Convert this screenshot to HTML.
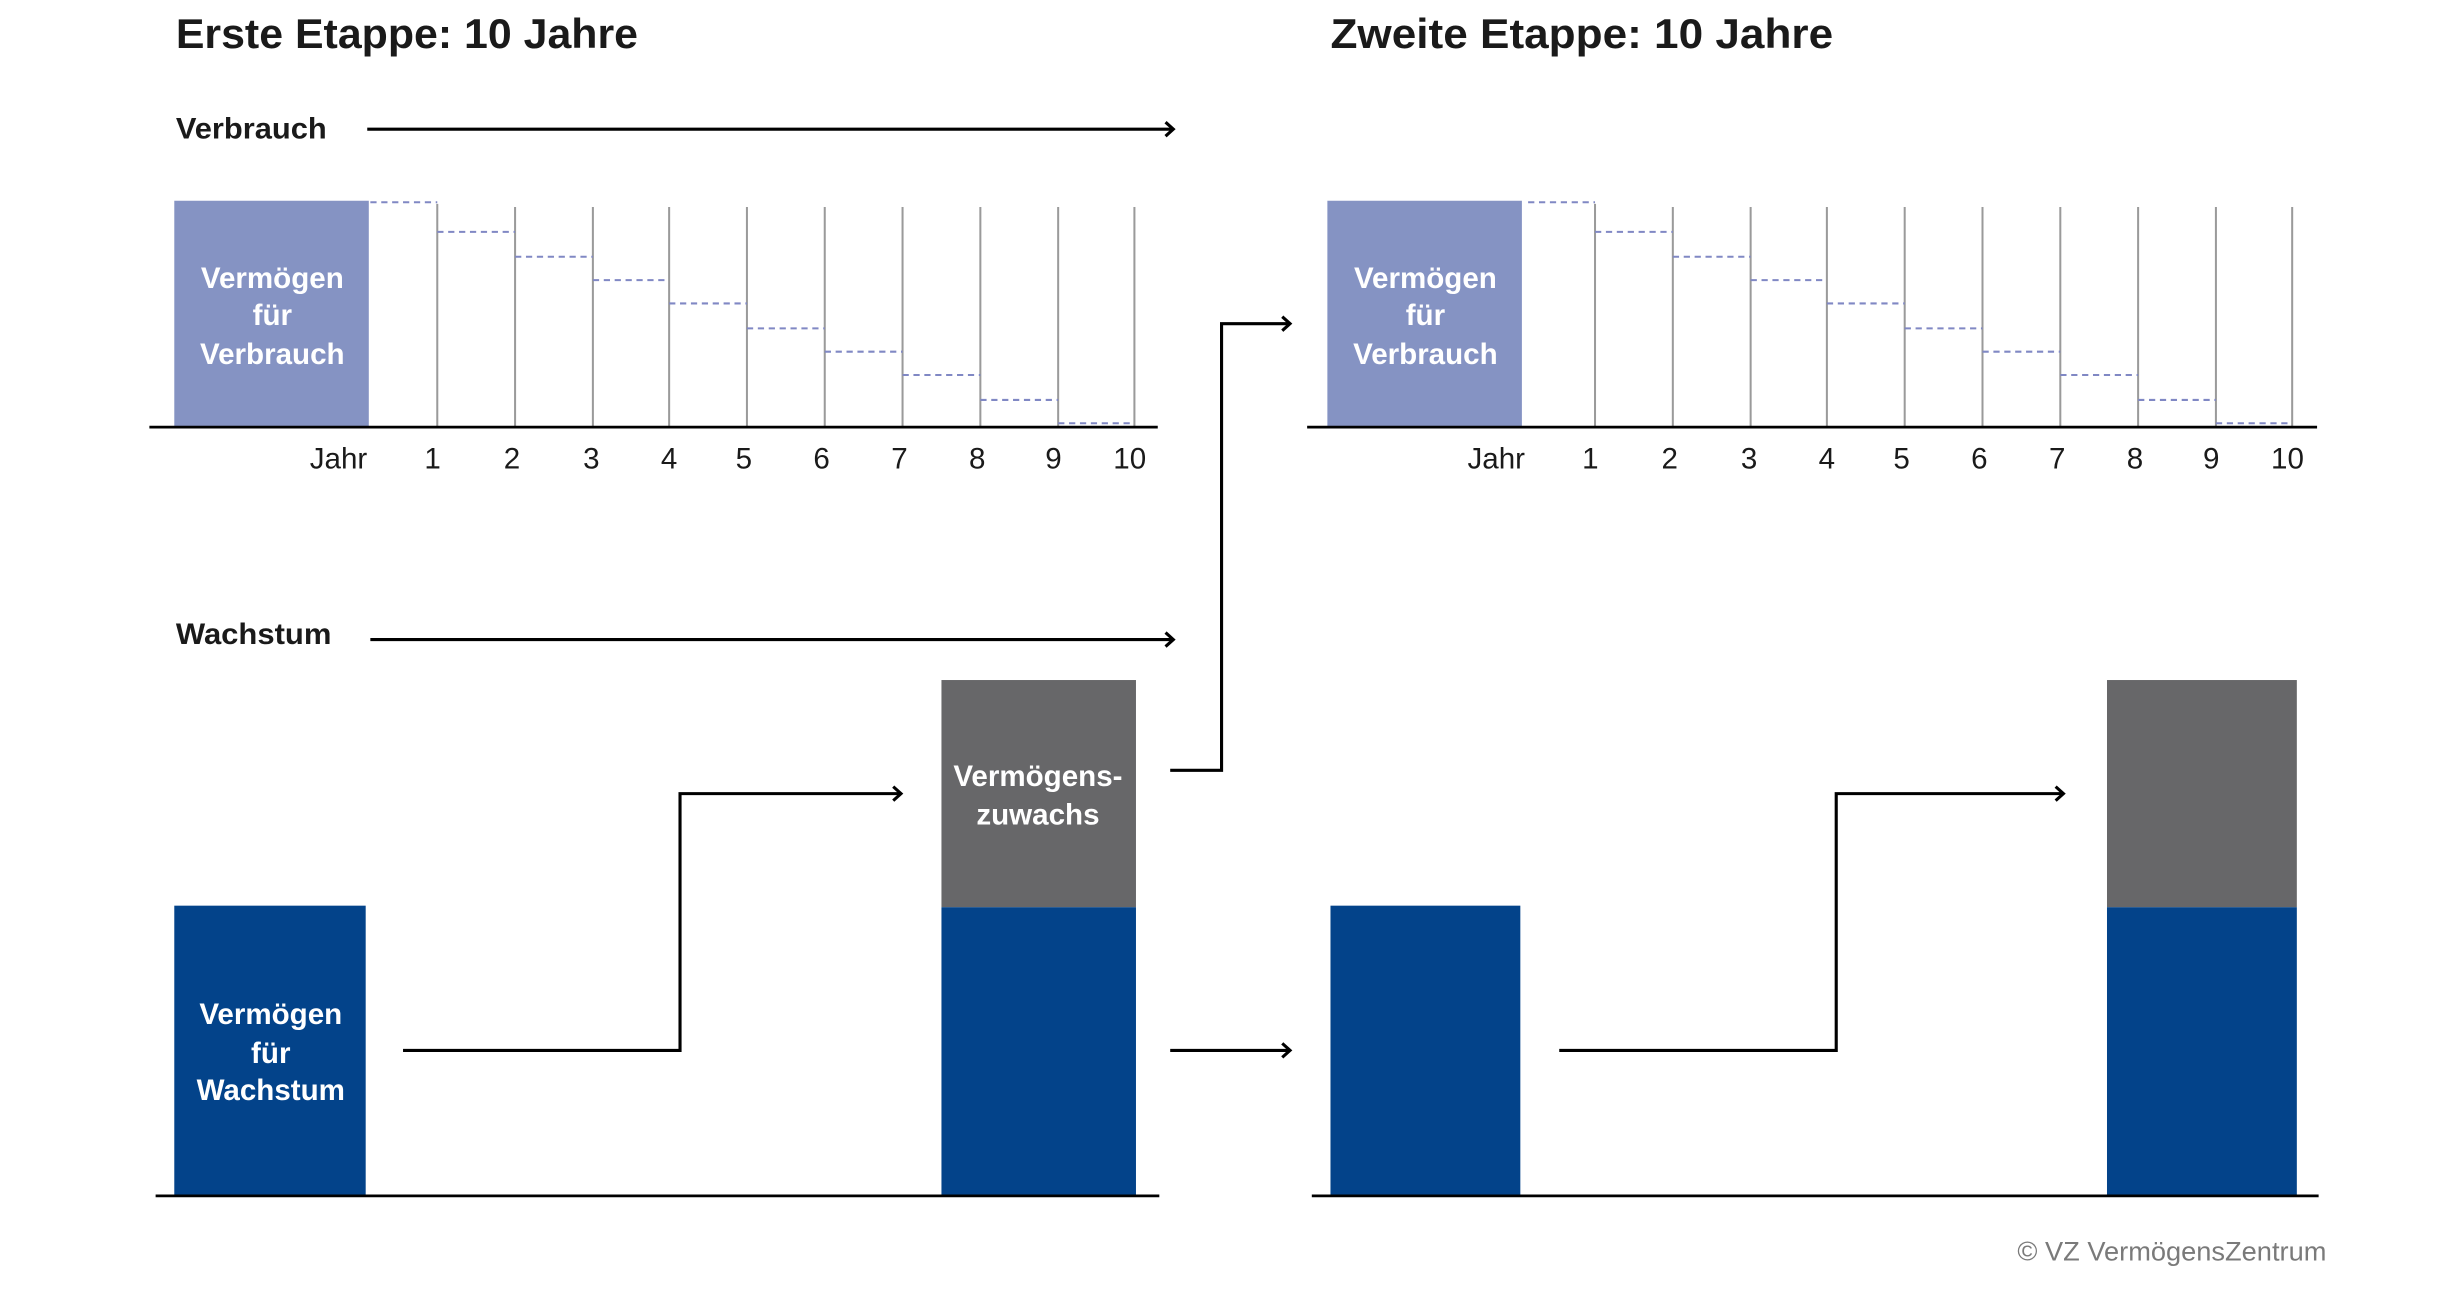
<!DOCTYPE html>
<html><head><meta charset="utf-8"><style>
html,body{margin:0;padding:0;background:#fff;}
svg{display:block;}
text{font-family:"Liberation Sans",sans-serif;}
</style></head><body>
<svg width="2440" height="1314" viewBox="0 0 1568 844.4" preserveAspectRatio="none" xmlns="http://www.w3.org/2000/svg">
<defs>
<marker id="a" markerWidth="10" markerHeight="12" refX="8" refY="6" orient="auto" markerUnits="userSpaceOnUse">
<polyline points="3,1.5 8,6 3,10.5" fill="none" stroke="#000" stroke-width="2"/>
</marker>
</defs>
<rect width="1568" height="845" fill="#fff"/>
<!-- Titles -->
<text x="113" y="31" font-size="27" font-weight="bold" fill="#1a1a1a" textLength="297" lengthAdjust="spacingAndGlyphs">Erste Etappe: 10 Jahre</text>
<text x="855" y="31" font-size="27" font-weight="bold" fill="#1a1a1a" textLength="323" lengthAdjust="spacingAndGlyphs">Zweite Etappe: 10 Jahre</text>
<text x="113" y="89" font-size="19" font-weight="bold" fill="#1a1a1a" textLength="97" lengthAdjust="spacingAndGlyphs">Verbrauch</text>
<line x1="236" y1="83" x2="754" y2="83" stroke="#000" stroke-width="2" marker-end="url(#a)"/>
<text x="113" y="414" font-size="19" font-weight="bold" fill="#1a1a1a" textLength="100" lengthAdjust="spacingAndGlyphs">Wachstum</text>
<line x1="238" y1="411" x2="754" y2="411" stroke="#000" stroke-width="2" marker-end="url(#a)"/>

<!-- Left consumption chart -->
<g id="chart">
<g stroke="#9a9a9a" stroke-width="1.3">
<line x1="281" y1="131" x2="281" y2="274"/><line x1="331" y1="133" x2="331" y2="274"/>
<line x1="381" y1="133" x2="381" y2="274"/><line x1="430" y1="133" x2="430" y2="274"/>
<line x1="480" y1="133" x2="480" y2="274"/><line x1="530" y1="133" x2="530" y2="274"/>
<line x1="580" y1="133" x2="580" y2="274"/><line x1="630" y1="133" x2="630" y2="274"/>
<line x1="680" y1="133" x2="680" y2="274"/><line x1="729" y1="133" x2="729" y2="274"/>
</g>
<g stroke="#8088c4" stroke-width="1.3" stroke-dasharray="4,3">
<line x1="238" y1="130" x2="281" y2="130"/><line x1="281" y1="149" x2="331" y2="149"/>
<line x1="331" y1="165" x2="381" y2="165"/><line x1="381" y1="180" x2="430" y2="180"/>
<line x1="430" y1="195" x2="480" y2="195"/><line x1="480" y1="211" x2="530" y2="211"/>
<line x1="530" y1="226" x2="580" y2="226"/><line x1="580" y1="241" x2="630" y2="241"/>
<line x1="630" y1="257" x2="680" y2="257"/><line x1="680" y1="272" x2="729" y2="272"/>
</g>
<g font-size="19" fill="#1a1a1a" text-anchor="middle">
<text x="236" y="301" text-anchor="end">Jahr</text>
<text x="278" y="301">1</text><text x="329" y="301">2</text><text x="380" y="301">3</text>
<text x="430" y="301">4</text><text x="478" y="301">5</text><text x="528" y="301">6</text>
<text x="578" y="301">7</text><text x="628" y="301">8</text><text x="677" y="301">9</text>
<text x="726" y="301">10</text>
</g>
</g>
<use href="#chart" x="744" y="0"/>

<g id="box">
<rect x="112" y="129" width="125" height="145" fill="#8593c3"/>
<g font-size="19" font-weight="bold" fill="#fff" text-anchor="middle">
<text x="175" y="185">Vermögen</text>
<text x="175" y="209">für</text>
<text x="175" y="234">Verbrauch</text>
</g>
</g>
<use href="#box" x="741" y="0"/>
<line x1="96" y1="274.5" x2="744" y2="274.5" stroke="#000" stroke-width="1.8"/>
<line x1="840" y1="274.5" x2="1489" y2="274.5" stroke="#000" stroke-width="1.8"/>

<!-- Left growth -->
<rect x="112" y="582" width="123" height="186" fill="#03438a"/>
<g font-size="19" font-weight="bold" fill="#fff" text-anchor="middle">
<text x="174" y="658">Vermögen</text>
<text x="174" y="683">für</text>
<text x="174" y="707">Wachstum</text>
</g>
<rect x="605" y="437" width="125" height="146" fill="#676769"/>
<rect x="605" y="583" width="125" height="185" fill="#03438a"/>
<g font-size="19" font-weight="bold" fill="#fff" text-anchor="middle">
<text x="667" y="505">Vermögens-</text>
<text x="667" y="530">zuwachs</text>
</g>
<polyline points="259,675 437,675 437,510 579,510" fill="none" stroke="#000" stroke-width="2" marker-end="url(#a)"/>
<line x1="100" y1="768.5" x2="745" y2="768.5" stroke="#000" stroke-width="1.8"/>

<!-- Connectors between stages -->
<polyline points="752,495 785,495 785,208 829,208" fill="none" stroke="#000" stroke-width="2" marker-end="url(#a)"/>
<line x1="752" y1="675" x2="829" y2="675" stroke="#000" stroke-width="2" marker-end="url(#a)"/>

<!-- Right growth -->
<rect x="855" y="582" width="122" height="186" fill="#03438a"/>
<rect x="1354" y="437" width="122" height="146" fill="#676769"/>
<rect x="1354" y="583" width="122" height="185" fill="#03438a"/>
<polyline points="1002,675 1180,675 1180,510 1326,510" fill="none" stroke="#000" stroke-width="2" marker-end="url(#a)"/>
<line x1="843" y1="768.5" x2="1490" y2="768.5" stroke="#000" stroke-width="1.8"/>

<text x="1495" y="810" font-size="17.5" fill="#7a7a7a" text-anchor="end">© VZ VermögensZentrum</text>
</svg>
</body></html>
